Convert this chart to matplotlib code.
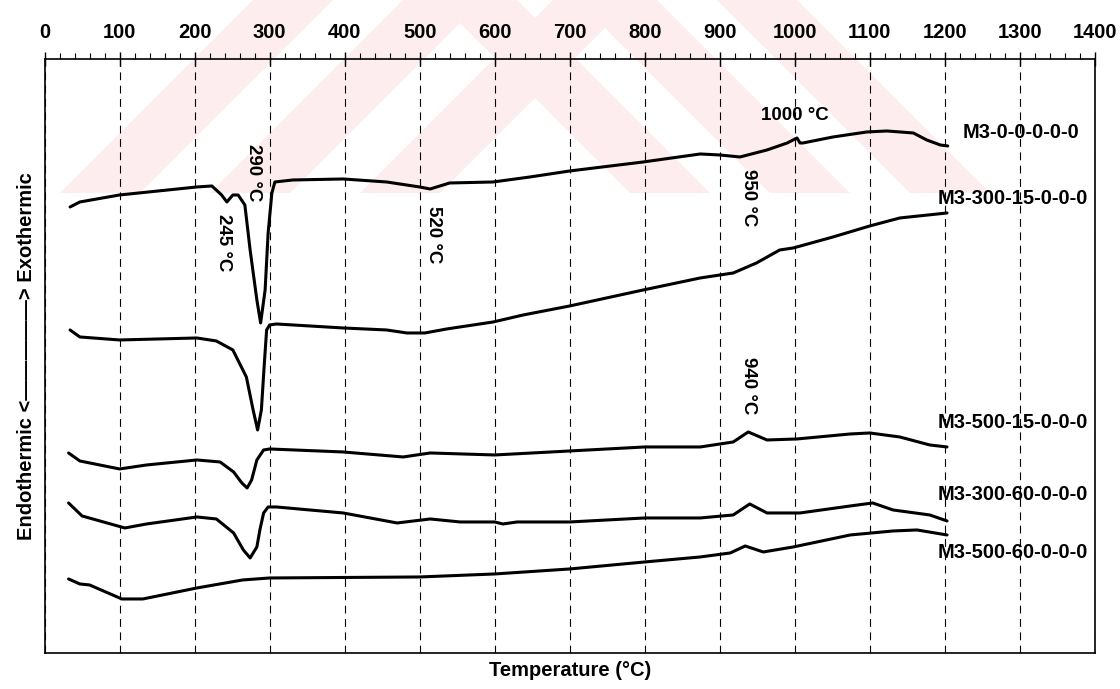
import matplotlib
matplotlib.use("Agg")
import matplotlib.pyplot as plt
from matplotlib.patches import Polygon
from matplotlib.ticker import MultipleLocator

plt.rcParams["font.family"] = ["Liberation Sans", "DejaVu Sans"]
plt.rcParams["font.weight"] = "bold"

# DTA curves (temperature in C, signal in arbitrary units)
t_m3_0 = [34, 47, 100, 203, 223, 236, 243, 251, 258, 267, 274, 283, 288, 294, 298, 303, 307,
          331, 398, 456, 500, 514, 540, 598, 647, 700, 798, 874, 900, 927, 963, 990, 1003,
          1007, 1011, 1051, 1096, 1123, 1158, 1176, 1194, 1204]
y_m3_0 = [446, 451, 458, 466, 467, 458, 451, 458, 458, 448, 403, 353, 330, 363, 420, 460, 471,
          473, 474, 471, 466, 464, 470, 471, 476, 482, 491, 499, 498, 496, 503, 510, 515,
          510, 510, 516, 521, 522, 520, 513, 508, 507]

t_m3_300_15 = [34, 47, 100, 203, 229, 251, 269, 278, 284, 289, 293, 296, 300, 309, 398, 456,
               483, 507, 536, 598, 638, 700, 798, 874, 918, 949, 980, 998, 1051, 1100, 1140, 1203]
y_m3_300_15 = [323, 316, 313, 315, 312, 303, 276, 243, 223, 243, 290, 323, 328, 329, 325, 323,
               320, 320, 324, 331, 338, 347, 363, 375, 380, 390, 403, 405, 416, 427, 435, 440]

t_m3_500_15 = [32, 47, 100, 136, 203, 234, 252, 263, 270, 276, 283, 292, 300, 398, 478, 514,
               600, 700, 800, 874, 918, 938, 963, 1003, 1074, 1100, 1140, 1180, 1203]
y_m3_500_15 = [200, 192, 184, 188, 193, 191, 181, 170, 165, 173, 193, 203, 204, 201, 196, 200,
               198, 202, 206, 206, 211, 221, 213, 214, 219, 220, 216, 208, 206]

t_m3_300_60 = [32, 50, 107, 136, 203, 229, 252, 265, 274, 283, 287, 292, 298, 309, 398, 470,
               514, 554, 600, 611, 630, 700, 800, 874, 918, 940, 963, 1007, 1074, 1104, 1131,
               1180, 1203]
y_m3_300_60 = [150, 137, 125, 129, 136, 134, 120, 103, 95, 106, 123, 140, 146, 146, 140, 130,
               134, 131, 131, 129, 131, 131, 135, 135, 138, 149, 140, 140, 147, 150, 143,
               138, 132]

t_m3_500_60 = [32, 47, 60, 103, 131, 203, 264, 300, 500, 600, 700, 800, 874, 914, 934, 958,
               998, 1074, 1131, 1163, 1203]
y_m3_500_60 = [74, 69, 68, 54, 54, 65, 73, 75, 76, 79, 84, 91, 96, 100, 107, 101,
               106, 118, 122, 123, 118]

curves = [t_m3_0, t_m3_300_15, t_m3_500_15, t_m3_300_60, t_m3_500_60]
values = [y_m3_0, y_m3_300_15, y_m3_500_15, y_m3_300_60, y_m3_500_60]

names = ["M3-0-0-0-0-0", "M3-300-15-0-0-0", "M3-500-15-0-0-0", "M3-300-60-0-0-0", "M3-500-60-0-0-0"]
name_x = [1224, 1191, 1191, 1191, 1191]
name_y = [520, 454, 230, 158, 100]

peak_labels = ["1000 °C", "290 °C", "245 °C", "520 °C", "950 °C", "940 °C"]
peak_x = [1000, 278, 238, 518, 939, 939]
peak_y = [537, 480, 410, 418, 455, 267]
peak_rot = [0, 270, 270, 270, 270, 270]

fig = plt.figure(figsize=(11.2, 6.89), dpi=100)

# faint pink watermark in the top band of the page (pixel coords, y from top)
W, H = 1120, 689
band = 193
for x0 in [60, 210, 360]:
    pts = [(x0, band), (x0 + 80, band), (x0 + 80 + band, 0), (x0 + band, 0)]
    fig.add_artist(Polygon([(px / W, 1 - py / H) for px, py in pts], closed=True,
                           transform=fig.transFigure, facecolor="#fdedef",
                           edgecolor="none", zorder=-1))
for x0 in [630, 770, 910]:
    pts = [(x0, band), (x0 + 80, band), (x0 + 80 - band, 0), (x0 - band, 0)]
    fig.add_artist(Polygon([(px / W, 1 - py / H) for px, py in pts], closed=True,
                           transform=fig.transFigure, facecolor="#fdedef",
                           edgecolor="none", zorder=-1))

ax = fig.add_axes([0.0398, 0.0523, 0.9377, 0.8621])
ax.patch.set_alpha(0)

for t, y in zip(curves, values):
    ax.plot(t, y, color="black", lw=2.2, solid_joinstyle="round", solid_capstyle="round")

for name, x, y in zip(names, name_x, name_y):
    ax.text(x, y, name, ha="left", va="center", fontsize=14.5, fontweight="bold")

for lab, x, y, r in zip(peak_labels, peak_x, peak_y, peak_rot):
    ax.text(x, y, lab, ha="center", va="center", rotation=r, fontsize=13.5, fontweight="bold")

ax.set_xlim(0, 1400)
ax.set_ylim(0, 594)
ax.set_yticks([])

ax.xaxis.tick_top()
ax.set_xticks(range(0, 1401, 100))
ax.xaxis.set_minor_locator(MultipleLocator(20))
ax.tick_params(axis="x", which="major", direction="inout", length=10, width=1.0,
               pad=7, labelsize=14.5)
ax.tick_params(axis="x", which="minor", direction="out", length=4, width=0.8)
ax.grid(axis="x", which="major", color="black", linestyle=(0, (7, 5)), lw=0.8)

for s in ax.spines.values():
    s.set_linewidth(1.2)

ax.xaxis.set_label_position("bottom")
ax.set_xlabel("Temperature (°C)", fontsize=14.5, fontweight="bold", labelpad=6)
ax.set_ylabel("Endothermic <—————> Exothermic", fontsize=14.5, fontweight="bold", labelpad=6)

plt.savefig("out.png", dpi=100)
